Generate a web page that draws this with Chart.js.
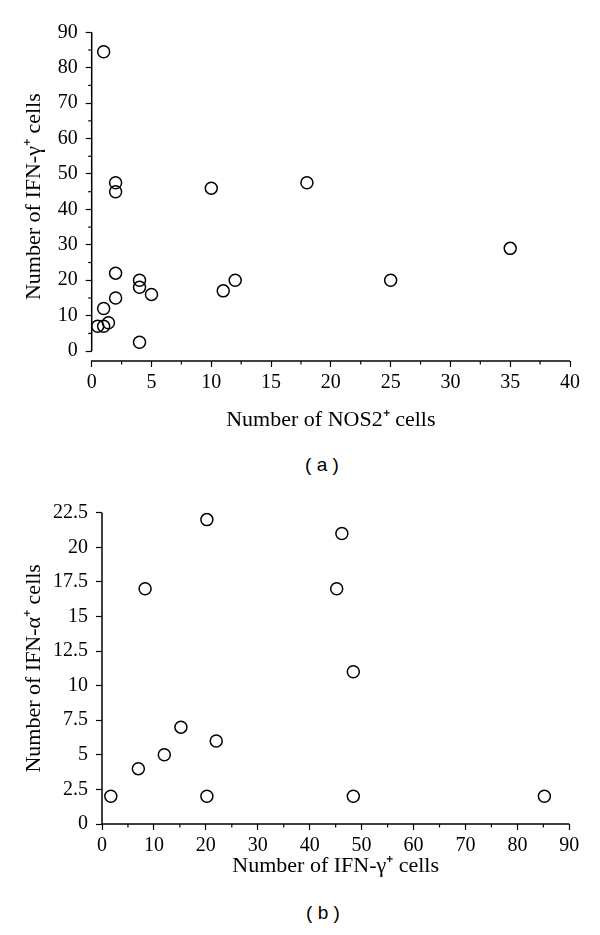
<!DOCTYPE html>
<html>
<head>
<meta charset="utf-8">
<script src="https://cdn.jsdelivr.net/npm/chart.js@4.4.1/dist/chart.umd.min.js"></script>
<style>
  html, body { margin: 0; padding: 0; background: #fff; }
  body { width: 600px; height: 935px; position: relative; overflow: hidden; }
  .wrap { position: absolute; left: 0; width: 600px; }
  .cap { position: absolute; font-family: 'Liberation Sans', Arial, sans-serif; font-size: 19px; color: #000;
         transform: translate(-50%, -50%); white-space: pre; }
</style>
</head>
<body>
<div class="wrap" style="top:0;height:445px"><canvas id="ca" width="600" height="445"></canvas></div>
<div class="cap" style="left:322px;top:465px">( a )</div>
<div class="wrap" style="top:470px;height:420px"><canvas id="cb" width="600" height="420"></canvas></div>
<div class="cap" style="left:323px;top:913px">( b )</div>
<script>
// ---- Panel (a): NOS2+ vs IFN-γ+ ----
const nos2Cells = [1, 2, 2, 10, 18, 2, 4, 4, 5, 2, 1, 1.4, 0.5, 1, 4, 11, 12, 25, 35];
const ifngCellsA = [84.5, 47.5, 45, 46, 47.5, 22, 20, 18, 16, 15, 12, 8, 7, 7, 2.5, 17, 20, 20, 29];
const xTitleA = 'Number of NOS2\u207A cells';
const yTitleA = 'Number of IFN-\u03B3\u207A cells';

// ---- Panel (b): IFN-γ+ vs IFN-α+ ----
const ifngCellsB = [1.7, 7, 12, 15.2, 22, 20.2, 8.3, 20.2, 46.2, 45.2, 48.4, 48.4, 85.2];
const ifnaCellsB = [2, 4, 5, 7, 6, 2, 17, 22, 21, 17, 11, 2, 2];
const xTitleB = 'Number of IFN-\u03B3\u207A cells';
const yTitleB = 'Number of IFN-\u03B1\u207A cells';

const serif = "'Liberation Serif', 'Times New Roman', serif";
const tickFont = { family: serif, size: 20 };
const titleFont = { family: serif, size: 22 };

const axesPlugin = {
  id: 'axesLines',
  afterDraw(chart) {
    const ctx = chart.ctx;
    const xs = chart.scales.x, ys = chart.scales.y;
    const ca = chart.chartArea;
    ctx.save();
    ctx.strokeStyle = '#000';
    ctx.lineWidth = 1.5;
    // y axis line from 0 to max
    ctx.beginPath();
    ctx.moveTo(ca.left, ys.getPixelForValue(ys.max));
    ctx.lineTo(ca.left, ys.getPixelForValue(0));
    ctx.stroke();
    // x axis line
    ctx.beginPath();
    ctx.moveTo(ca.left - 0.75, ca.bottom);
    ctx.lineTo(ca.right, ca.bottom);
    ctx.stroke();
    // minor ticks (unlabelled)
    ctx.lineWidth = 1.2;
    xs.ticks.forEach((t, i) => {
      if (t.label === '') {
        const p = xs.getPixelForTick(i);
        ctx.beginPath(); ctx.moveTo(p, ca.bottom); ctx.lineTo(p, ca.bottom + 3.5); ctx.stroke();
      }
    });
    ys.ticks.forEach((t, i) => {
      if (t.label === '') {
        const p = ys.getPixelForTick(i);
        ctx.beginPath(); ctx.moveTo(ca.left, p); ctx.lineTo(ca.left - 3.5, p); ctx.stroke();
      }
    });
    ctx.restore();
  }
};

function makeChart(id, xs, ys, cfg) {
  const pts = xs.map((v, i) => ({ x: v, y: ys[i] }));
  const tickColor = ctx => (ctx.tick && ctx.tick.label === '') ? 'rgba(0,0,0,0)' : '#000';
  return new Chart(document.getElementById(id), {
    type: 'scatter',
    data: { datasets: [{
      data: pts,
      pointStyle: 'circle',
      pointRadius: 6,
      pointHoverRadius: 6,
      borderColor: '#000',
      borderWidth: 1.5,
      backgroundColor: 'rgba(0,0,0,0)'
    }] },
    options: {
      responsive: false,
      animation: false,
      devicePixelRatio: 1,
      layout: { padding: cfg.padding },
      plugins: { legend: { display: false }, tooltip: { enabled: false } },
      scales: {
        x: {
          type: 'linear', min: cfg.xMin, max: cfg.xMax,
          afterFit: s => { s.height = cfg.xHeight; },
          border: { display: false },
          grid: { display: true, drawOnChartArea: false, drawTicks: true, tickLength: 6, tickWidth: 1.2, tickColor },
          ticks: { stepSize: cfg.xStep, autoSkip: false, includeBounds: false, maxRotation: 0,
                   padding: 3.4, color: '#000', font: tickFont, callback: cfg.xLabel },
          title: { display: true, text: cfg.xTitle, color: '#000', font: titleFont,
                   padding: { top: 0, bottom: cfg.xTitlePad } }
        },
        y: {
          type: 'linear', min: cfg.yMin, max: cfg.yMax,
          afterFit: s => { s.width = cfg.yWidth; },
          border: { display: false },
          grid: { display: true, drawOnChartArea: false, drawTicks: true, tickLength: 6, tickWidth: 1.2, tickColor },
          ticks: { stepSize: cfg.yStep, autoSkip: false, includeBounds: false,
                   padding: 8, color: '#000', font: tickFont, callback: cfg.yLabel },
          title: { display: true, text: cfg.yTitle, color: '#000', font: titleFont,
                   padding: { top: 21.4, bottom: 0 } }
        }
      }
    },
    plugins: [axesPlugin]
  });
}

makeChart('ca', nos2Cells, ifngCellsA, {
  padding: { left: 0, top: 32.3, right: 30, bottom: 0 },
  xMin: 0, xMax: 40, xStep: 2.5, xHeight: 84, xTitlePad: 11.4,
  xLabel: v => (v % 5 === 0 ? String(v) : ''),
  yMin: -2.8, yMax: 90, yStep: 5, yWidth: 91.7,
  yLabel: v => (v % 10 === 0 ? String(v) : ''),
  xTitle: xTitleA, yTitle: yTitleA
});

makeChart('cb', ifngCellsB, ifnaCellsB, {
  padding: { left: 0, top: 42.7, right: 30.7, bottom: 0 },
  xMin: 0, xMax: 90, xStep: 5, xHeight: 66, xTitlePad: 10.4,
  xLabel: v => (v % 10 === 0 ? String(v) : ''),
  yMin: 0, yMax: 22.5, yStep: 2.5, yWidth: 102,
  yLabel: v => String(v),
  xTitle: xTitleB, yTitle: yTitleB
});
</script>
</body>
</html>
